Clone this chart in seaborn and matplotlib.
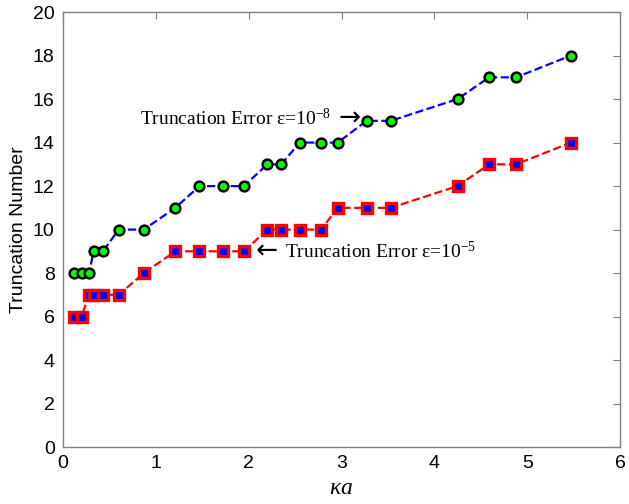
import matplotlib
matplotlib.use("Agg")
import matplotlib.pyplot as plt
import seaborn as sns
import pandas as pd

# ka values at which the truncation number was evaluated
ka = [0.12, 0.20, 0.28, 0.33, 0.43, 0.60, 0.87, 1.21, 1.47, 1.72, 1.95,
      2.20, 2.35, 2.55, 2.78, 2.96, 3.27, 3.53, 4.25, 4.59, 4.88, 5.47]
# required truncation number for eps = 1e-8 and eps = 1e-5
n_eps8 = [8, 8, 8, 9, 9, 10, 10, 11, 12, 12, 12,
          13, 13, 14, 14, 14, 15, 15, 16, 17, 17, 18]
n_eps5 = [6, 6, 7, 7, 7, 7, 8, 9, 9, 9, 9,
          10, 10, 10, 10, 11, 11, 11, 12, 13, 13, 14]

x_ticks = [0, 1, 2, 3, 4, 5, 6]
y_ticks = [0, 2, 4, 6, 8, 10, 12, 14, 16, 18, 20]

sns.set_theme(style="white")
plt.rcParams["font.family"] = ["Liberation Sans", "DejaVu Sans"]
plt.rcParams["mathtext.fontset"] = "custom"
plt.rcParams["mathtext.rm"] = "Liberation Serif"
plt.rcParams["mathtext.it"] = "Liberation Serif:italic"

df = pd.DataFrame({"ka": ka, "eps8": n_eps8, "eps5": n_eps5})

fig = plt.figure(figsize=(6.29, 5.04), dpi=100)
ax = fig.add_axes([0.1002, 0.113, 0.8855, 0.863])

sns.lineplot(data=df, x="ka", y="eps8", ax=ax, color="#0000ff",
             linestyle="--", linewidth=1.6, marker="o", markersize=7,
             markerfacecolor="#00ff00", markeredgecolor="black",
             markeredgewidth=1.8, zorder=3)
sns.lineplot(data=df, x="ka", y="eps5", ax=ax, color="#ff0000",
             linestyle="--", linewidth=1.6, marker="s", markersize=7,
             markerfacecolor="#0000ff", markeredgecolor="#ff0000",
             markeredgewidth=2.4, zorder=3)

ax.set_xlim(0, 6)
ax.set_ylim(0, 20)
ax.set_xticks(x_ticks)
ax.set_yticks(y_ticks)
ax.tick_params(axis="both", which="both", direction="in", length=5,
               width=0.8, color="#808080", labelsize=14, labelcolor="black",
               top=True, right=True, pad=6)
for s in ax.spines.values():
    s.set_visible(True)
    s.set_color("#808080")
    s.set_linewidth(1.0)

ax.set_ylabel("Truncation Number", fontsize=14, color="black", labelpad=4)
ax.set_xlabel(r"$\mathit{\kappa a}$", fontsize=17, color="black", labelpad=3)

serif = ["Liberation Serif", "DejaVu Serif"]
arrow_font = ["DejaVu Sans"]

# eps = 1e-8 label with a right arrow pointing at the upper curve
ax.text(0.83, 14.8, "Truncation Error \u03b5=10$^{-8}$",
        fontsize=14, family=serif, ha="left", va="baseline", color="black")
ax.text(2.97, 15.1, "\u2192", fontsize=19, family=arrow_font,
        ha="left", va="center", color="black")

# eps = 1e-5 label with a left arrow pointing at the lower curve
ax.text(2.08, 9.0, "\u2190", fontsize=19, family=arrow_font,
        ha="left", va="center", color="black")
ax.text(2.39, 8.69, "Truncation Error \u03b5=10$^{-5}$",
        fontsize=14, family=serif, ha="left", va="baseline", color="black")

fig.savefig("out.png", dpi=100)
